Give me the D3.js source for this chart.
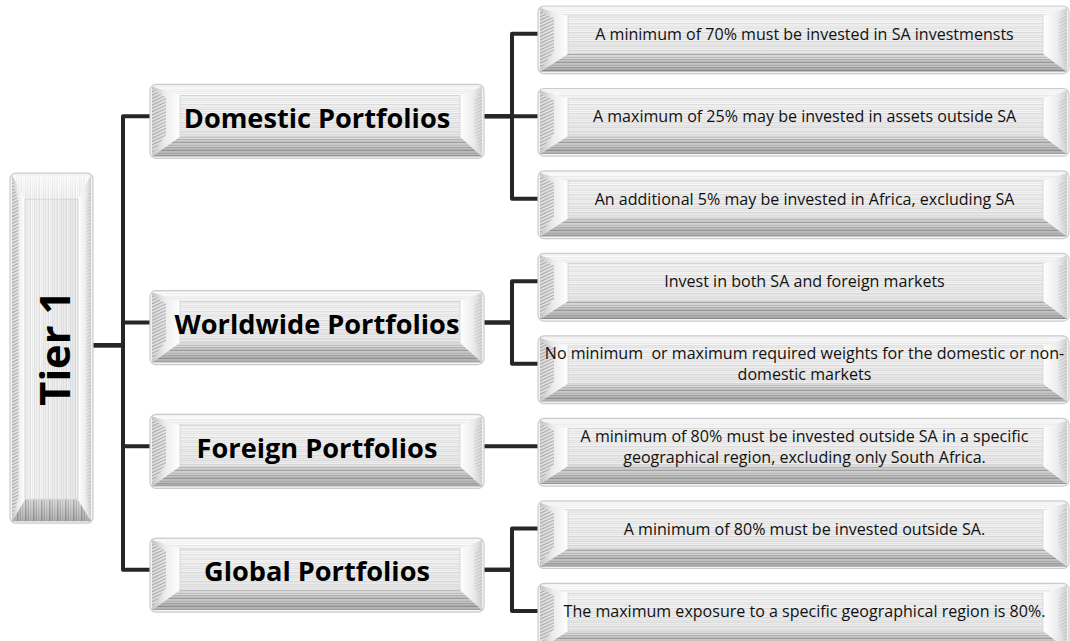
<!DOCTYPE html>
<html>
<head>
<meta charset="utf-8">
<script src="https://cdn.jsdelivr.net/npm/d3@7"></script>
<style>
  body { margin: 0; background: #fff; }
  svg { display: block; }
</style>
</head>
<body>
<div id="chart"></div>
<script>
// Tree content
const rootLabel = "Tier 1";
const portfolios = ["Domestic Portfolios", "Worldwide Portfolios", "Foreign Portfolios", "Global Portfolios"];
const rules = [
    ["A minimum of 70% must be invested in SA investmensts"],
    ["A maximum of 25% may be invested in assets outside SA"],
    ["An additional 5% may be invested in Africa, excluding SA"],
    ["Invest in both SA and foreign markets"],
    ["No minimum  or maximum required weights for the domestic or non-", "domestic markets"],
    ["A minimum of 80% must be invested outside SA in a specific", "geographical region, excluding only South Africa."],
    ["A minimum of 80% must be invested outside SA."],
    ["The maximum exposure to a specific geographical region is 80%."]
];
const ruleParent = [0, 0, 0, 1, 1, 2, 3, 3];

const width = 1070, height = 641;
const font = "'Open Sans', 'Noto Sans', sans-serif";
const lineColor = "#262626";

const svg = d3.select("#chart").append("svg")
    .attr("width", width)
    .attr("height", height);
const defs = svg.append("defs");

/*----------------------
PATTERNS AND GRADIENTS
----------------------*/
function stripes(id, colors, rotate) {
    const p = defs.append("pattern")
        .attr("id", id)
        .attr("patternUnits", "userSpaceOnUse")
        .attr("width", 50)
        .attr("height", colors.length);
    if (rotate) p.attr("patternTransform", "rotate(90)");
    colors.forEach((c, i) => {
        p.append("rect").attr("x", 0).attr("y", i).attr("width", 50).attr("height", 1).attr("fill", c);
    });
}
const faceCols = ["#f0f0f0", "#e4e4e4", "#f5f5f5", "#ebebeb", "#f9f9f9", "#e1e1e1", "#eeeeee", "#f3f3f3", "#e7e7e7"];
const baseCols = ["#dadada", "#c6c6c6", "#e2e2e2", "#b9b9b9", "#d4d4d4", "#cacaca", "#a9a9a9", "#dcdcdc"];
stripes("face", faceCols, false);
stripes("faceV", faceCols, true);
stripes("base", baseCols, false);
stripes("baseV", baseCols, true);

const hatch = defs.append("pattern")
    .attr("id", "hatch")
    .attr("patternUnits", "userSpaceOnUse")
    .attr("width", 3).attr("height", 3)
    .attr("patternTransform", "rotate(65)");
hatch.append("rect").attr("width", 3).attr("height", 3).attr("fill", "#e2e2e2");
hatch.append("rect").attr("width", 1).attr("height", 3).attr("fill", "#999");

function grad(id, x2, y2, stops) {
    const g = defs.append("linearGradient").attr("id", id)
        .attr("x1", 0).attr("y1", 0).attr("x2", x2).attr("y2", y2);
    stops.forEach(([o, c, a]) => g.append("stop").attr("offset", o).attr("stop-color", c).attr("stop-opacity", a));
}
grad("sideL", 1, 0, [[0, "#c4c4c4", 1], [0.45, "#ebebeb", 1], [1, "#ffffff", 1]]);
grad("sideR", 1, 0, [[0, "#ffffff", 1], [0.6, "#ececec", 1], [1, "#d0d0d0", 1]]);
grad("shadeDown", 0, 1, [[0, "#000", 0], [1, "#000", 0.2]]);
grad("shadeRight", 1, 0, [[0, "#000", 0], [1, "#000", 0.15]]);
grad("glow", 0, 1, [[0, "#fff", 0.6], [1, "#fff", 0]]);

/*----------------------
BEVELLED BOX
----------------------*/
function bevelBox(x, y, w, h, b, vertical) {
    const g = svg.append("g");
    const poly = pts => pts.map(p => p.join(",")).join(" ");
    g.append("rect")
        .attr("x", x).attr("y", y).attr("width", w).attr("height", h)
        .attr("rx", 6).attr("fill", "#f2f2f2")
        .attr("stroke", "#cccccc").attr("stroke-width", 1.2);
    const x0 = x + 2, y0 = y + 2, x1 = x + w - 2, y1 = y + h - 2;
    const ix0 = x0 + b.l, ix1 = x1 - b.r, iy0 = y0 + b.t, iy1 = y1 - b.b;
    // top
    g.append("polygon").attr("points", poly([[x0, y0], [x1, y0], [ix1, iy0], [ix0, iy0]]))
        .attr("fill", vertical ? "url(#faceV)" : "url(#face)");
    g.append("polygon").attr("points", poly([[x0, y0], [x1, y0], [ix1, iy0], [ix0, iy0]]))
        .attr("fill", "url(#glow)");
    // bottom
    g.append("polygon").attr("points", poly([[x0, y1], [x1, y1], [ix1, iy1], [ix0, iy1]]))
        .attr("fill", vertical ? "url(#baseV)" : "url(#base)");
    g.append("polygon").attr("points", poly([[x0, y1], [x1, y1], [ix1, iy1], [ix0, iy1]]))
        .attr("fill", "url(#shadeDown)");
    // left
    g.append("polygon").attr("points", poly([[x0, y0], [ix0, iy0], [ix0, iy1], [x0, y1]]))
        .attr("fill", "url(#sideL)");
    g.append("polygon").attr("points", poly([[x0, y0 + 3], [x0 + b.l * 0.5, iy0 + 2], [x0 + b.l * 0.5, iy1 - 2], [x0, y1 - 3]]))
        .attr("fill", "url(#hatch)").attr("opacity", 0.75);
    // right
    g.append("polygon").attr("points", poly([[x1, y0], [ix1, iy0], [ix1, iy1], [x1, y1]]))
        .attr("fill", "url(#sideR)");
    g.append("polygon").attr("points", poly([[x1, y0 + 4], [x1 - b.r * 0.35, iy0 + 4], [x1 - b.r * 0.35, iy1 - 4], [x1, y1 - 4]]))
        .attr("fill", "url(#hatch)").attr("opacity", 0.3);
    // face
    g.append("rect").attr("x", ix0).attr("y", iy0).attr("width", ix1 - ix0).attr("height", iy1 - iy0)
        .attr("fill", vertical ? "url(#faceV)" : "url(#face)");
    g.append("rect").attr("x", ix0).attr("y", iy0).attr("width", ix1 - ix0).attr("height", iy1 - iy0)
        .attr("fill", vertical ? "url(#shadeRight)" : "url(#shadeDown)").attr("opacity", 0.25);
    g.append("rect").attr("x", ix0).attr("y", iy0).attr("width", ix1 - ix0).attr("height", iy1 - iy0)
        .attr("fill", "none").attr("stroke", "#d2d2d2").attr("stroke-width", 0.8);
    return g;
}

/*----------------------
TEXT FITTING
----------------------*/
function fitSize(text, weight, target) {
    const t = svg.append("text")
        .attr("font-family", font).attr("font-weight", weight)
        .attr("font-size", 100).style("white-space", "pre").text(text);
    const w = t.node().getComputedTextLength();
    t.remove();
    return 100 * target / w;
}
const leafSize = fitSize(rules[4][0], 400, 520);
const midSize = fitSize(portfolios[1], 700, 285);
const rootSize = fitSize(rootLabel, 700, 115);

/*----------------------
LAYOUT
----------------------*/
const leafY = d3.scaleBand()
    .domain(d3.range(rules.length))
    .range([6, 6 + 82.5 * rules.length - 15])
    .paddingInner(0.18);
const leafH = leafY.bandwidth();
const leafX = 538, leafW = width - leafX - 1;
const leafConn = i => leafY(i) + leafH * 0.41;

const midX = 150, midW = 334, midH = 74;
const midConn = portfolios.map((p, j) => d3.mean(d3.range(rules.length).filter(i => ruleParent[i] === j), leafConn));
const midTop = j => midConn[j] - midH * 0.43;

const rootX = 10, rootW = 83, rootH = 350;
const rootCy = (midTop(0) + midTop(portfolios.length - 1) + midH) / 2;
const rootTop = rootCy - rootH / 2;
const rootConn = rootCy - 3;

const elbow = d3.line();
const joinA = 123, joinB = 512;

/*----------------------
CONNECTORS
----------------------*/
const links = svg.append("g")
    .attr("fill", "none")
    .attr("stroke", lineColor)
    .attr("stroke-width", 4)
    .attr("stroke-linejoin", "round");

portfolios.forEach((p, j) => {
    links.append("path").attr("d", elbow([
        [rootX + rootW, rootConn], [joinA, rootConn], [joinA, midConn[j]], [midX + 2, midConn[j]]
    ]));
});
rules.forEach((r, i) => {
    const j = ruleParent[i];
    const single = ruleParent.filter(k => k === j).length === 1;
    const pts = single
        ? [[midX + midW, midConn[j]], [leafX + 2, leafConn(i)]]
        : [[midX + midW, midConn[j]], [joinB, midConn[j]], [joinB, leafConn(i)], [leafX + 2, leafConn(i)]];
    links.append("path").attr("d", elbow(pts));
});

/*----------------------
BOXES
----------------------*/
// root
bevelBox(rootX, rootTop, rootW, rootH, { l: 13, r: 13, t: 24, b: 22 }, true);
svg.append("text")
    .attr("transform", `translate(${rootX + rootW / 2 + 2},${rootCy}) rotate(-90)`)
    .attr("text-anchor", "middle")
    .attr("dominant-baseline", "central")
    .attr("font-family", font).attr("font-weight", 700)
    .attr("font-size", rootSize)
    .attr("fill", "#000")
    .text(rootLabel);

// portfolios
portfolios.forEach((p, j) => {
    bevelBox(midX, midTop(j), midW, midH, { l: 28, r: 22, t: 9, b: 20 }, false);
    svg.append("text")
        .attr("x", midX + midW / 2)
        .attr("y", midConn[j] + 1)
        .attr("text-anchor", "middle")
        .attr("dominant-baseline", "central")
        .attr("font-family", font).attr("font-weight", 700)
        .attr("font-size", midSize)
        .attr("fill", "#000")
        .text(p);
});

// rules
rules.forEach((lines, i) => {
    bevelBox(leafX, leafY(i), leafW, leafH, { l: 28, r: 24, t: 8, b: 18 }, false);
    const t = svg.append("text")
        .attr("text-anchor", "middle")
        .attr("font-family", font)
        .attr("font-size", leafSize)
        .attr("fill", "#111")
        .style("white-space", "pre");
    const lh = 21;
    lines.forEach((line, k) => {
        t.append("tspan")
            .attr("x", leafX + leafW / 2 + 1)
            .attr("y", leafConn(i) + (k - (lines.length - 1) / 2) * lh)
            .attr("dominant-baseline", "central")
            .text(line);
    });
});
</script>
</body>
</html>
